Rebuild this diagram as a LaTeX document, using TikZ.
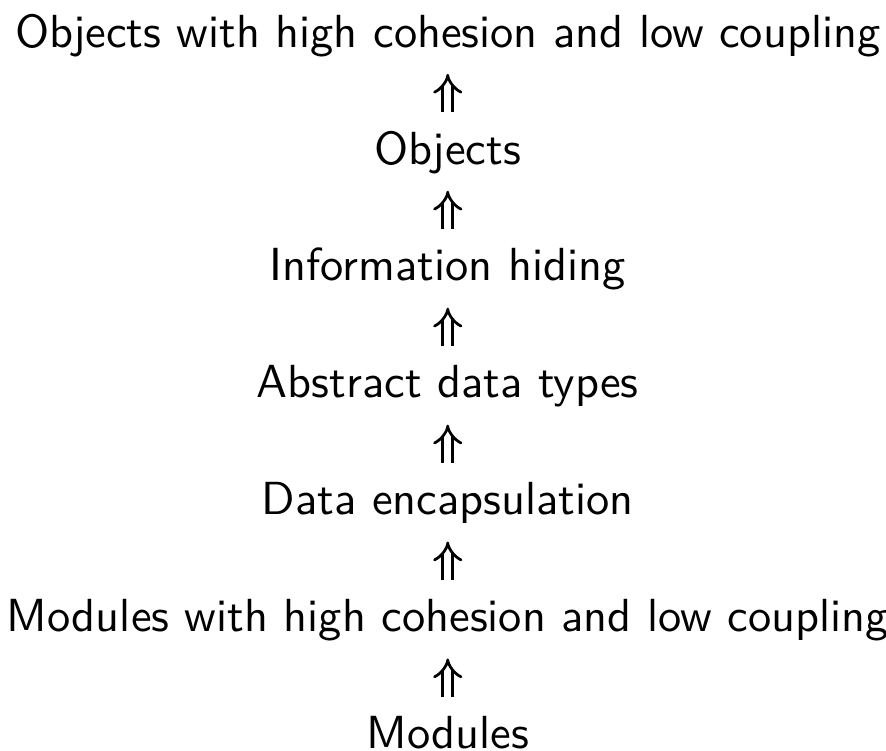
\documentclass[tikz,border=0pt]{standalone}
\usepackage{tikz}
\usetikzlibrary{arrows.meta}
\def\levelsep{25.8pt}

\begin{document}
\begin{tikzpicture}[font=\sffamily\fontsize{10.24pt}{12pt}\selectfont]
    \tikzstyle{concept}=[anchor=base, inner sep=0pt, text height=7.1pt, text depth=0pt]
    \tikzstyle{implies}=[double, line width=0.6pt, double distance=1.6pt, -{Implies[scale=1.35]}, shorten <=4.2pt, shorten >=5.7pt]

    \useasboundingbox (-98.8pt,10.4pt) rectangle (96.7pt,-155.3pt);

    % Draw the concept levels, top to bottom
    \foreach \name / \y / \word in {1/0/Objects with high cohesion and low coupling,
                                    2/1/Objects,
                                    3/2/Information hiding,
                                    4/3/Abstract data types,
                                    5/4/Data encapsulation,
                                    6/5/Modules with high cohesion and low coupling,
                                    7/6/Modules}
        \node[concept] (C-\name) at (0pt,{-\y*\levelsep}) {\word};

    % Each level leads up to the one above it
    \foreach \source / \dest in {2/1,3/2,4/3,5/4,6/5,7/6}
        \draw[implies] (C-\source) -- (C-\dest);

\end{tikzpicture}
\end{document}
